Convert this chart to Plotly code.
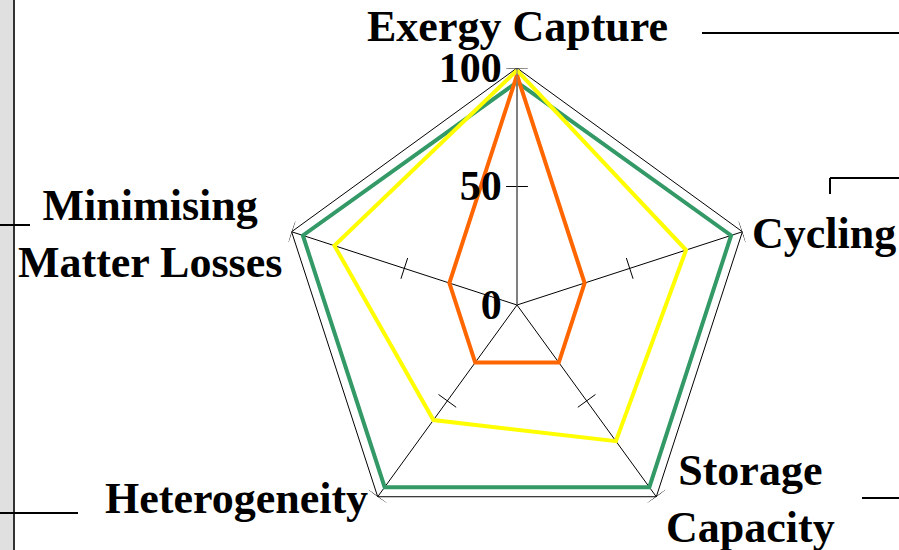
import math
import plotly.graph_objects as go

# ---- data ----
categories = ["Exergy Capture", "Cycling", "Storage<br>Capacity", "Heterogeneity", "Minimising<br>Matter Losses"]
series_green = [94, 95, 95, 95, 95]
series_yellow = [99, 75, 71, 60, 81]
series_orange = [97, 30, 30, 30, 30]
radial_ticks = [0, 50, 100]
radial_range = [0, 100]

colors = {"green": "#339966", "yellow": "#FFFF00", "orange": "#FF6600"}
FONT = "Liberation Serif"
W, H = 899, 550

n = len(categories)
angles = [i * 360.0 / n for i in range(n)]


def closed(vals):
    return list(vals) + [vals[0]]


fig = go.Figure()

# outer polygon at range max
fig.add_trace(go.Scatterpolar(
    r=closed([radial_range[1]] * n), theta=closed(angles), mode="lines",
    line=dict(color="black", width=1), hoverinfo="skip", showlegend=False))

# perpendicular tick marks on every spoke (at 50 and 100)
half = 4.6
tr, tt = [], []
for a in angles:
    for r0 in radial_ticks[1:]:
        rr = math.sqrt(r0 ** 2 + half ** 2)
        da = math.degrees(math.atan(half / r0))
        tr += [rr, rr, None]
        tt += [a - da, a + da, None]
fig.add_trace(go.Scatterpolar(
    r=tr, theta=tt, mode="lines", line=dict(color="black", width=1),
    hoverinfo="skip", showlegend=False, connectgaps=False))

for vals, c in [(series_green, "green"), (series_yellow, "yellow"), (series_orange, "orange")]:
    fig.add_trace(go.Scatterpolar(
        r=closed(vals), theta=closed(angles), mode="lines",
        line=dict(color=colors[c], width=4), showlegend=False))

R_px = 237
cx, cy = 517, 305
fig.update_layout(
    width=W, height=H, margin=dict(l=0, r=0, t=0, b=0),
    paper_bgcolor="white", plot_bgcolor="white", showlegend=False,
    polar=dict(
        domain=dict(x=[(cx - R_px) / W, (cx + R_px) / W],
                    y=[1 - (cy + R_px) / H, 1 - (cy - R_px) / H]),
        bgcolor="white",
        radialaxis=dict(range=radial_range, tickvals=radial_ticks, angle=90, tickangle=90,
                        side="counterclockwise", showgrid=False, showline=True,
                        linecolor="#808080", linewidth=1, ticks="",
                        tickfont=dict(family=FONT, size=42, color="black", weight="bold")),
        angularaxis=dict(type="linear", direction="clockwise", rotation=90,
                         tickvals=angles, showticklabels=False, showline=False,
                         showgrid=True, gridcolor="black", gridwidth=1, ticks=""),
    ),
)

# category labels placed just outside each vertex
annotations = []
for a, label in zip(angles, categories):
    rad = math.radians(a)
    s, c = math.sin(rad), math.cos(rad)
    vx = cx + R_px * s
    vy = cy - R_px * c
    if abs(s) < 0.1:
        x, y, xa, ya = vx, vy - 15, "center", "bottom"
    else:
        x = vx + (8 if s > 0 else -8)
        y = vy + 2
        xa, ya = ("left" if s > 0 else "right"), "middle"
    annotations.append(dict(
        text=label, x=x / W, y=1 - y / H, xref="paper", yref="paper",
        xanchor=xa, yanchor=ya, align="center", showarrow=False,
        font=dict(family=FONT, size=44, color="black", weight="bold")))
fig.update_layout(annotations=annotations)


def px(x, y):
    return x / W, 1 - y / H


def hline(y, x0, x1, width=2):
    a, b = px(x0, y)
    c, d = px(x1, y)
    return dict(type="line", xref="paper", yref="paper", x0=a, y0=b, x1=c, y1=d,
                line=dict(color="black", width=width))


def vline(x, y0, y1, color="black", width=2):
    a, b = px(x, y0)
    c, d = px(x, y1)
    return dict(type="line", xref="paper", yref="paper", x0=a, y0=b, x1=c, y1=d,
                line=dict(color=color, width=width))


shapes = [
    dict(type="rect", xref="paper", yref="paper", x0=0, x1=13 / W, y0=0, y1=1,
         fillcolor="#e0e0e0", line=dict(width=0), layer="below"),
    vline(14, 0, H, color="#333333", width=2),
    hline(225, 0, 30),
    hline(513, 0, 78),
    hline(33, 702, W),
    vline(830, 178, 194),
    hline(178, 830, W),
    hline(498, 862, W),
]
fig.update_layout(shapes=shapes)

fig.write_html("out.html", config={"displayModeBar": False},
               post_script="document.body.style.margin='0';document.body.style.overflow='hidden';")
